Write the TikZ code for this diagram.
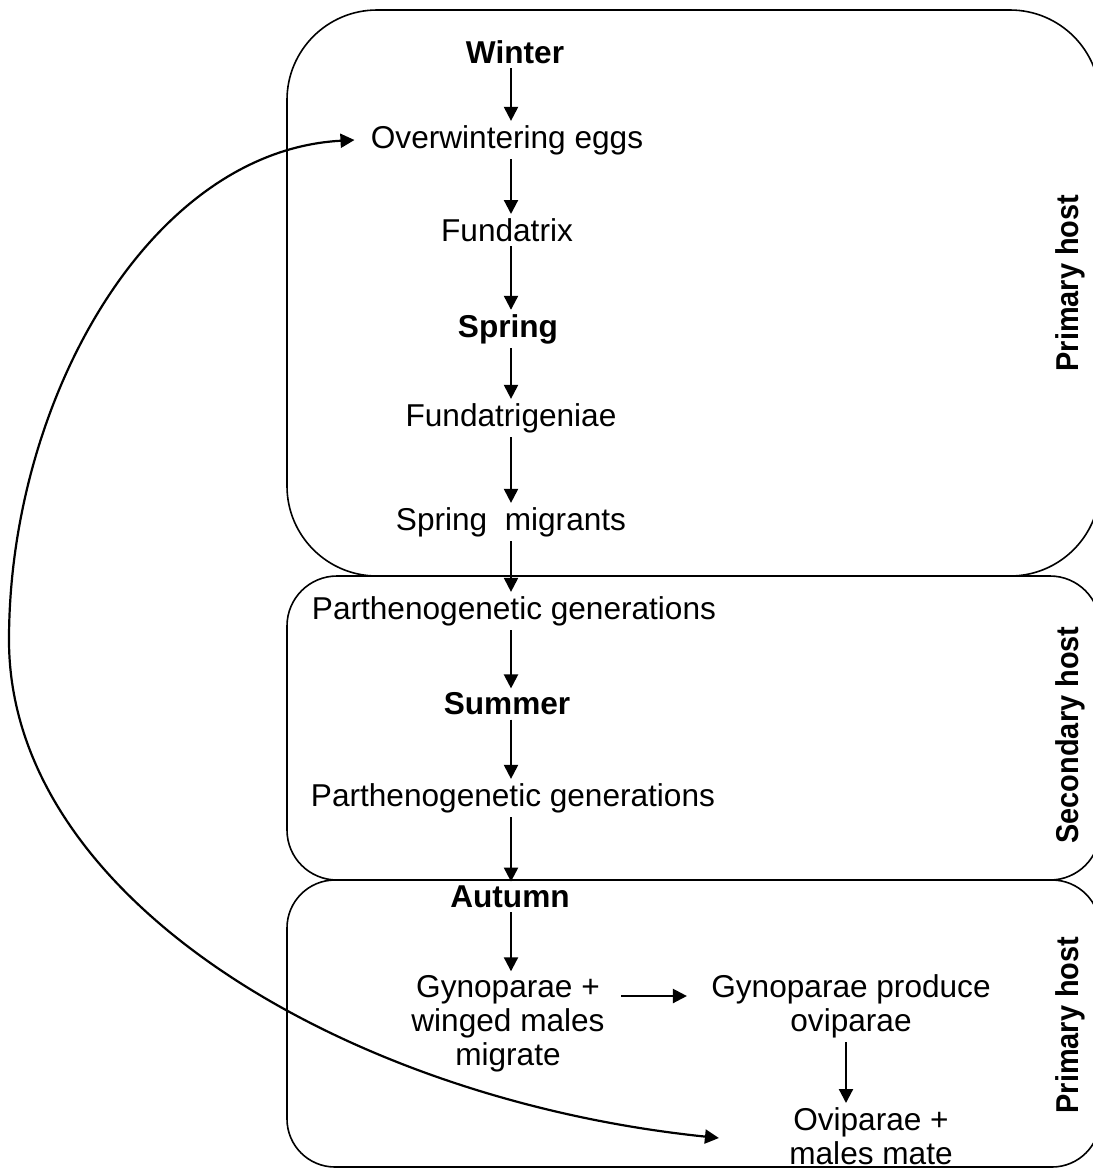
\documentclass[tikz,border=0pt]{standalone}
\usepackage{fontspec}
\setmainfont{Liberation Sans}
\usepackage{graphicx}
\usetikzlibrary{arrows.meta, calc, positioning}
\tikzset{
  align=center,
  txt/.style={font=\fontsize{15.8}{17}\selectfont, inner sep=2pt, align=center},
  season/.style={txt, font=\fontsize{15.8}{17}\selectfont\bfseries},
  host/.style={txt, rotate=90, font=\fontsize{15.8}{17}\selectfont\bfseries},
  hostbox/.style={draw, line width=0.8pt},
  pto/.style={-{Triangle[length=7pt,width=7pt]}, line width=1.1pt},
  cycleline/.style={{Triangle[length=7pt,width=7pt]}-{Triangle[length=7pt,width=7pt]}, line width=1.1pt}
}

\begin{document}
\begin{tikzpicture}[x=0.5pt, y=-0.5pt]
  \useasboundingbox (0,0) rectangle (1093,1169);

  % host plants
  \draw[hostbox, rounded corners=45pt] (287,10) rectangle (1100,576);
  \draw[hostbox, rounded corners=25pt] (287,576) rectangle (1100,880);
  \draw[hostbox, rounded corners=24pt] (287,880) rectangle (1100,1167);

  \node[host] (prim1) at (1070,283) {\scalebox{0.915}[1]{Primary host}};
  \node[host] (sec)   at (1070,735) {\scalebox{0.915}[1]{Secondary host}};
  \node[host] (prim2) at (1070,1025) {\scalebox{0.915}[1]{Primary host}};

  % life cycle
  \node[season] (winter)    at (515,52)  {Winter};
  \node[txt]    (eggs)      at (507,140) {Overwintering eggs};
  \node[txt]    (fundatrix) at (507,230) {Fundatrix};
  \node[season] (spring)    at (508,329) {Spring};
  \node[txt]    (fgen)      at (511,418) {Fundatrigeniae};
  \node[txt]    (smig)      at (511,522) {Spring~ migrants};
  \node[txt]    (parth1)    at (514,611) {Parthenogenetic generations};
  \node[season] (summer)    at (507,704) {Summer};
  \node[txt]    (parth2)    at (513,798) {Parthenogenetic generations};
  \node[season] (autumn)    at (510,897) {Autumn};
  \node[txt]    (gyno)      at (508,1024) {Gynoparae +\\winged males\\migrate};
  \node[txt]    (produce)   at (851,1006) {Gynoparae produce\\oviparae};
  \node[txt]    (ovi)       at (871,1136) {Oviparae +\\males mate};

  \coordinate (spine) at (511,0);
  \foreach \a/\b in {winter/eggs, eggs/fundatrix, fundatrix/spring, spring/fgen, fgen/smig,
                     smig/parth1, parth1/summer, summer/parth2, parth2/autumn, autumn/gyno}
    \draw[pto] (\a.south -| spine) -- (\b.north -| spine);

  \draw[pto, shorten <=6pt, shorten >=10pt] ([yshift=5pt]gyno.east |- produce.center) -- ([yshift=5pt]produce.west);
  \draw[pto] ([xshift=-2.5pt]produce.south) -- ([xshift=-2.5pt]produce.south |- ovi.north);

  % back to the eggs
  \coordinate (eggsin) at ($(eggs.west)+(-12,0)$);
  \coordinate (matein) at ($(ovi.west)+(-66,2)$);
  \coordinate (farleft) at (9,640);
  \draw[cycleline] (eggsin) .. controls +(-205,11) and +(0,-240) .. (farleft)
    .. controls +(0,260) and +(-370,-38) .. (matein);
\end{tikzpicture}
\end{document}
